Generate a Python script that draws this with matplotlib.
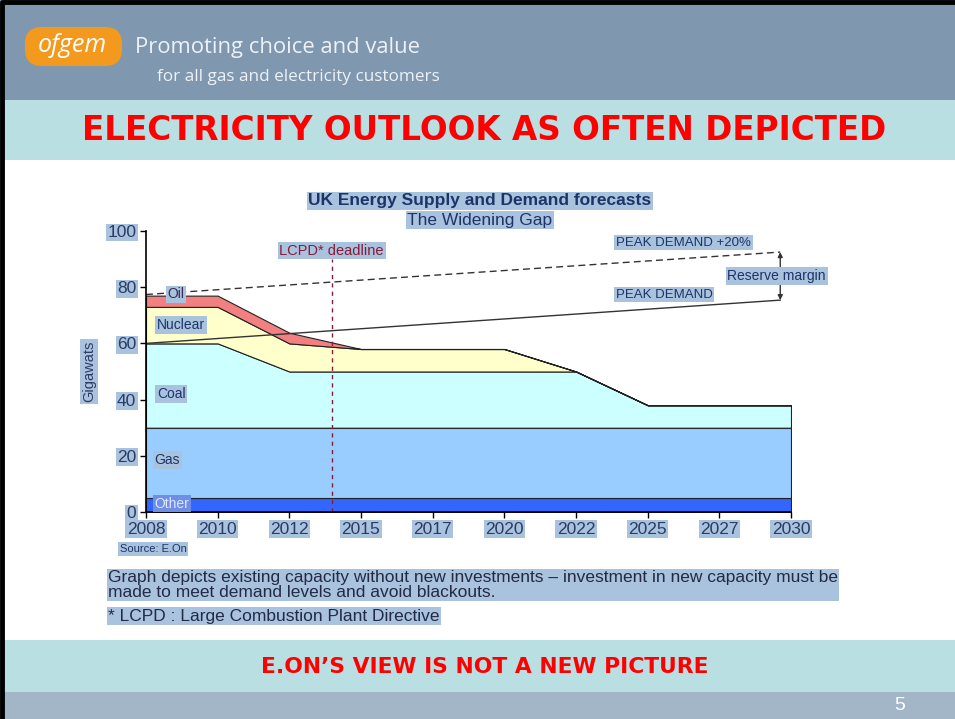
import matplotlib
matplotlib.use("Agg")
import matplotlib.pyplot as plt
from matplotlib.patches import Rectangle, FancyBboxPatch

# data (GW)
years = ['2008', '2010', '2012', '2015', '2017', '2020', '2022', '2025', '2027', '2030']
other = [5, 5, 5, 5, 5, 5, 5, 5, 5, 5]
gas = [25, 25, 25, 25, 25, 25, 25, 25, 25, 25]
coal = [30, 30, 20, 20, 20, 20, 20, 8, 8, 8]
nuclear = [13, 13, 10, 8, 8, 8, 0, 0, 0, 0]
oil = [4, 4, 3.8, 0, 0, 0, 0, 0, 0, 0]

demand_span = [0, 8.85]          # position along the category axis
peak_demand = [60, 75.4]
peak_plus20 = [77.4, 92.5]
lcpd_pos = 2.59
lcpd_top = 90

layer_colors = ['#3366ff', '#99ccff', '#ccffff', '#ffffcc', '#f28080']

hl = '#a9c2de'
navy = '#1c3468'
plt.rcParams['font.family'] = ['Liberation Sans', 'DejaVu Sans']

fig = plt.figure(figsize=(9.55, 7.19), dpi=100)

# slide background
bg = fig.add_axes([0, 0, 1, 1])
bg.set_xlim(0, 955)
bg.set_ylim(719, 0)
bg.axis('off')
bg.add_patch(Rectangle((0, 0), 955, 719, fc='white', ec='none'))
bg.add_patch(Rectangle((0, 0), 955, 100, fc='#7f97af', ec='none'))
bg.add_patch(Rectangle((0, 100), 955, 60, fc='#b9dfe2', ec='none'))
bg.add_patch(Rectangle((0, 640), 955, 52, fc='#b9dfe2', ec='none'))
bg.add_patch(Rectangle((0, 692), 955, 27, fc='#a3b6c7', ec='none'))
bg.plot([2, 2, 955], [719, 1.5, 1.5], color='black', lw=3.5)

bg.add_patch(FancyBboxPatch((25, 27), 97, 39, boxstyle='round,pad=0,rounding_size=17',
                            fc='#f39a1e', ec='none'))
bg.text(72, 45, 'ofgem', color='white', fontsize=18, style='italic',
        ha='center', va='center', family=['Open Sans', 'DejaVu Sans'])
bg.text(135, 48, 'Promoting choice and value', color='#eef2f6', fontsize=15.8,
        ha='left', va='center', family=['Open Sans', 'DejaVu Sans'])
bg.text(157, 77, 'for all gas and electricity customers', color='#eef2f6', fontsize=12.3,
        ha='left', va='center', family=['Open Sans', 'DejaVu Sans'])

bg.text(484, 131, 'ELECTRICITY OUTLOOK AS OFTEN DEPICTED', color='#ff0000',
        fontsize=23.5, fontweight='bold', ha='center', va='center', family='DejaVu Sans')
bg.text(485, 667, 'E.ON\u2019S VIEW IS NOT A NEW PICTURE', color='#ff0000',
        fontsize=15.7, fontweight='bold', ha='center', va='center', family='DejaVu Sans')
bg.text(900, 706, '5', color='white', fontsize=14, ha='center', va='center')

# chart title and notes
bg.text(480, 201, 'UK Energy Supply and Demand forecasts', color=navy, fontsize=12.5,
        fontweight='bold', ha='center', va='center',
        bbox=dict(boxstyle='square,pad=0.08', fc=hl, ec='none'))
bg.text(480, 220, 'The Widening Gap', color=navy, fontsize=12.5, ha='center', va='center',
        bbox=dict(boxstyle='square,pad=0.08', fc=hl, ec='none'))
bg.text(153, 549, 'Source: E.On', color=navy, fontsize=8, ha='center', va='center',
        bbox=dict(boxstyle='square,pad=0.15', fc=hl, ec='none'))
bg.text(108, 585, 'Graph depicts existing capacity without new investments \u2013 investment in new capacity must be\n'
        'made to meet demand levels and avoid blackouts.', color='#222a44', fontsize=12.5,
        ha='left', va='center', linespacing=0.95,
        bbox=dict(boxstyle='square,pad=0.05', fc=hl, ec='none'))
bg.text(108, 616, '* LCPD : Large Combustion Plant Directive', color='#222a44', fontsize=12.5,
        ha='left', va='center', bbox=dict(boxstyle='square,pad=0.08', fc=hl, ec='none'))

# chart
ax = fig.add_axes([146 / 955, (719 - 512) / 719, (791 - 146) / 955, 281 / 719])
ax.patch.set_alpha(0)
x = list(range(len(years)))
ax.stackplot(x, other, gas, coal, nuclear, oil, colors=layer_colors,
             edgecolor='#222222', linewidth=0.8)
ax.plot(demand_span, peak_demand, color='#333333', lw=1)
ax.plot(demand_span, peak_plus20, color='#333333', lw=1, ls=(0, (5, 3)))
ax.vlines(lcpd_pos, 0, lcpd_top, color='#8b1a3a', lw=1, ls=(0, (3, 3)))
ax.annotate('', xy=(demand_span[1], peak_plus20[1]), xytext=(demand_span[1], peak_demand[1]),
            arrowprops=dict(arrowstyle='<|-|>', color='#333333', lw=1, mutation_scale=7,
                            shrinkA=0, shrinkB=0))

ax.set_xlim(0, len(years) - 1)
ax.set_ylim(0, 100)
ax.set_xticks(x)
ax.set_xticklabels(years)
ax.set_yticks([0, 20, 40, 60, 80, 100])
for s in ['top', 'right']:
    ax.spines[s].set_visible(False)
ax.spines['left'].set_linewidth(1.2)
ax.spines['bottom'].set_linewidth(1.2)
ax.tick_params(axis='both', direction='out', length=4, width=1, colors='black',
               labelcolor='#2a3c66', labelsize=12.5, pad=3)
for lab in ax.get_xticklabels() + ax.get_yticklabels():
    lab.set_bbox(dict(boxstyle='square,pad=0.08', fc=hl, ec='none'))
ax.set_ylabel('Gigawats', color='#2a3c66', fontsize=10.5, labelpad=8,
              bbox=dict(boxstyle='square,pad=0.12', fc=hl, ec='none'))

box = dict(boxstyle='square,pad=0.12', fc=hl, ec='none')
ax.text(0.3, 77.5, 'Oil', fontsize=10, color='#3a2a55', va='center', bbox=box)
ax.text(0.15, 66.5, 'Nuclear', fontsize=10, color=navy, va='center', bbox=box)
ax.text(0.15, 42, 'Coal', fontsize=10, color=navy, va='center', bbox=box)
ax.text(0.12, 18.5, 'Gas', fontsize=10, color=navy, va='center', bbox=box)
ax.text(0.12, 3, 'Other', fontsize=10, color='#dfe8ff', va='center',
        bbox=dict(boxstyle='square,pad=0.12', fc='#6f8fe6', ec='none'))
ax.text(lcpd_pos, 93, 'LCPD* deadline', fontsize=10.5, color='#8b1a3a', ha='center', va='center',
        bbox=box)
ax.text(7.5, 95.8, 'PEAK DEMAND +20%', fontsize=9.5, color=navy, ha='center', va='center',
        bbox=box)
ax.text(7.23, 77.4, 'PEAK DEMAND', fontsize=9.5, color=navy, ha='center', va='center',
        bbox=box)
ax.text(8.8, 84, 'Reserve margin', fontsize=10, color=navy, ha='center', va='center',
        bbox=box)

fig.savefig('out.png', dpi=100)
